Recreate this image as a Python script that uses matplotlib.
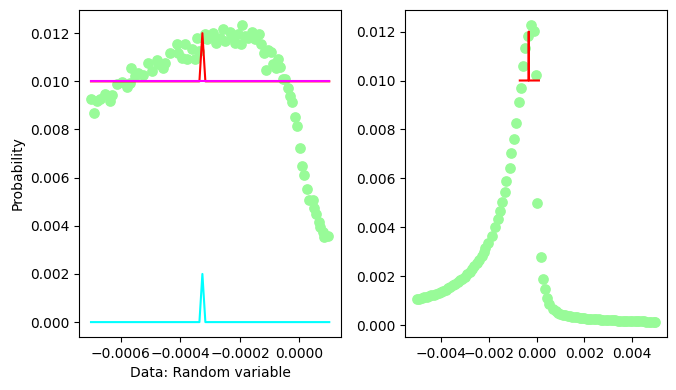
import matplotlib
matplotlib.use("Agg")
import matplotlib.pyplot as plt

# ---- Left panel data ----
left_x = [-0.000699, -0.000691, -0.00068, -0.000669, -0.000652, -0.000635, -0.00063, -0.000613,
          -0.000596, -0.000578, -0.000569, -0.000565, -0.000552, -0.000541, -0.000524, -0.000507,
          -0.000496, -0.000479, -0.000474, -0.000457, -0.000452, -0.000435, -0.000412, -0.000407,
          -0.000396, -0.000385, -0.000379, -0.000362, -0.000351, -0.000345, -0.000337, -0.000318,
          -0.000312, -0.000301, -0.00029, -0.000279, -0.000268, -0.000257, -0.000251, -0.000234,
          -0.000225, -0.000217, -0.000206, -0.000198, -0.000192, -0.000184, -0.000173, -0.00016,
          -0.000151, -0.000136, -0.000128, -0.00012, -0.000111, -0.000106, -0.000095, -0.000089,
          -0.000078, -0.000073, -0.000064, -0.000056, -0.000047, -0.000039, -0.000033, -0.000024,
          -0.000014, -0.000008, 0.000002, 0.000009, 0.000014, 0.000024, 0.000033, 0.000044,
          0.00005, 0.000056, 0.000064, 0.000069, 0.000078, 0.000084, 0.000095]
left_y = [0.00927, 0.00869, 0.00917, 0.00925, 0.00948, 0.0092, 0.00945, 0.00987,
          0.00997, 0.00977, 0.00994, 0.01057, 0.01022, 0.01033, 0.01025, 0.01078,
          0.01043, 0.01087, 0.0107, 0.01057, 0.01078, 0.01119, 0.01154, 0.01119,
          0.01098, 0.01154, 0.01091, 0.01136, 0.01091, 0.01178, 0.01126, 0.01196,
          0.01175, 0.01188, 0.01199, 0.01158, 0.01182, 0.01216, 0.01168, 0.01203,
          0.01186, 0.01161, 0.01196, 0.01154, 0.01234, 0.01188, 0.01178, 0.01203,
          0.01175, 0.01196, 0.01154, 0.01116, 0.01047, 0.0113, 0.01122, 0.0107,
          0.01057, 0.01091, 0.01059, 0.01011, 0.01011, 0.00973, 0.00938, 0.00915,
          0.00852, 0.00813, 0.00723, 0.00649, 0.00612, 0.00552, 0.00508, 0.00508,
          0.00475, 0.00449, 0.00417, 0.00396, 0.00375, 0.00354, 0.00359]

# uniform reference line and spike lines
line_x = [-0.0007, -0.000336, -0.000326, -0.000316, 0.0001]
uniform_y = [0.01, 0.01, 0.01, 0.01, 0.01]
spike_y = [0.01, 0.01, 0.012, 0.01, 0.01]
delta_y = [0.0, 0.0, 0.002, 0.0, 0.0]

# ---- Right panel data ----
right_x = [-0.0050, -0.0049, -0.0048, -0.0047, -0.0046, -0.0045, -0.0044, -0.0043, -0.0042,
           -0.0041, -0.0040, -0.0039, -0.0038, -0.0037, -0.0036, -0.0035, -0.0034, -0.0033,
           -0.0032, -0.0031, -0.0030, -0.0029, -0.0028, -0.0027, -0.0026, -0.0025, -0.0024,
           -0.0023, -0.0022, -0.00216, -0.00202, -0.00188, -0.00174, -0.00163, -0.00154,
           -0.00146, -0.00133, -0.00126, -0.00112, -0.00105, -0.00095, -0.00084, -0.00075,
           -0.00064, -0.00056, -0.00050, -0.00036, -0.00025, -0.00012, -0.00004, 0.00003,
           0.00017, 0.00025, 0.00036, 0.00043, 0.00054, 0.00068, 0.00080, 0.00090, 0.00100,
           0.00110, 0.00120, 0.00130, 0.00140, 0.00150, 0.00160, 0.00170, 0.00180, 0.00190,
           0.00200, 0.00210, 0.00220, 0.00230, 0.00240, 0.00250, 0.00260, 0.00270, 0.00280,
           0.00290, 0.00300, 0.00310, 0.00320, 0.00330, 0.00340, 0.00350, 0.00360, 0.00370,
           0.00380, 0.00390, 0.00400, 0.00410, 0.00420, 0.00430, 0.00440, 0.00450, 0.00460,
           0.00470, 0.00480, 0.00490, 0.00497]
right_y = [0.00106, 0.00108, 0.00112, 0.00113, 0.00116, 0.00118, 0.00121, 0.00124, 0.00128,
           0.00131, 0.00136, 0.00141, 0.00145, 0.00150, 0.00157, 0.00163, 0.00169, 0.00176,
           0.00183, 0.00190, 0.00198, 0.00207, 0.00216, 0.00228, 0.00240, 0.00254, 0.00268,
           0.00283, 0.00300, 0.00316, 0.00336, 0.00363, 0.00402, 0.00434, 0.00468,
           0.00504, 0.00544, 0.00588, 0.00642, 0.00702, 0.00761, 0.00826, 0.00912,
           0.00971, 0.01060, 0.01132, 0.01180, 0.01227, 0.01204, 0.01023, 0.00500,
           0.00279, 0.00189, 0.00146, 0.00109, 0.00084, 0.00064, 0.00056, 0.00051, 0.00047,
           0.00043, 0.00040, 0.00037, 0.00035, 0.00033, 0.00032, 0.00031, 0.00029, 0.00028,
           0.00027, 0.00026, 0.00026, 0.00025, 0.00024, 0.00024, 0.00023, 0.00022, 0.00022,
           0.00021, 0.00020, 0.00020, 0.00019, 0.00019, 0.00018, 0.00018, 0.00018, 0.00017,
           0.00017, 0.00017, 0.00016, 0.00016, 0.00016, 0.00015, 0.00015, 0.00015, 0.00014,
           0.00014, 0.00013, 0.00013, 0.00012]

fig, (ax1, ax2) = plt.subplots(1, 2, figsize=(6.76, 3.9), dpi=100)
fig.subplots_adjust(left=0.117, right=0.987, bottom=0.136, top=0.974, wspace=0.244)

ax1.scatter(left_x, left_y, s=45, color="palegreen")
ax1.plot(line_x, spike_y, color="red")
ax1.plot(line_x, uniform_y, color="magenta")
ax1.plot(line_x, delta_y, color="cyan")
ax1.set_xlabel("Data: Random variable")
ax1.set_ylabel("Probability")

ax2.scatter(right_x, right_y, s=45, color="palegreen")
ax2.plot(line_x, spike_y, color="red")

fig.savefig("out.png", dpi=100)
